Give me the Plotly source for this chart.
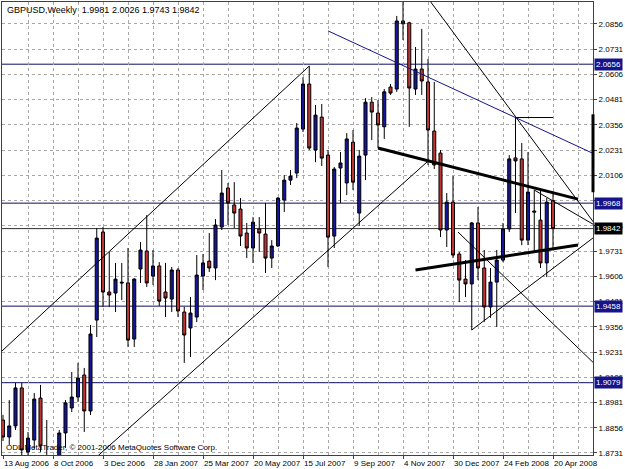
import plotly.graph_objects as go

# ---------------- data ----------------
week_idx = list(range(89))
opens = [1.8894,1.8810,1.8865,1.9053,1.8736,1.8795,1.9003,1.8680,1.8712,1.8700,
         1.8830,1.8954,1.9008,1.9117,1.8939,1.9389,1.9825,1.9528,1.9523,1.9577,
         1.9573,1.9295,1.9642,1.9731,1.9607,1.9657,1.9528,1.9493,1.9637,1.9429,
         1.9350,1.9404,1.9607,1.9681,1.9647,1.9850,2.0043,1.9959,1.9939,1.9820,
         1.9746,1.9840,1.9815,1.9696,1.9756,1.9983,2.0082,2.0117,2.0335,2.0558,
         2.0231,2.0394,2.0206,1.9805,2.0142,2.0068,2.0270,1.9919,2.0206,2.0468,
         2.0414,2.0346,2.0543,2.0533,2.0870,2.0861,2.0533,2.0632,2.0568,2.0325,
         2.0216,1.9835,1.9973,1.9716,1.9592,1.9568,1.9870,1.9647,1.9454,1.9577,
         1.9686,1.9840,2.0192,2.0187,1.9785,1.9929,1.9884,1.9672,1.9981]
highs = [1.8920,1.8993,1.9078,1.9078,1.8835,1.9028,1.9068,1.8894,1.8715,1.8845,
         1.8993,1.9132,1.9177,1.9152,1.9365,1.9845,1.9850,1.9726,1.9672,1.9672,
         1.9746,1.9597,1.9775,1.9909,1.9736,1.9676,1.9672,1.9652,1.9647,1.9454,
         1.9503,1.9711,1.9716,1.9820,1.9889,2.0132,2.0068,2.0072,1.9993,1.9870,
         1.9899,1.9899,1.9969,1.9785,1.9998,2.0107,2.0132,2.0365,2.0592,2.0647,
         2.0454,2.0459,2.0231,2.0147,2.0221,2.0315,2.0330,2.0231,2.0488,2.0493,
         2.0478,2.0533,2.0558,2.0895,2.1150,2.0866,2.0741,2.0831,2.0682,2.0568,
         2.0231,2.0018,2.0102,1.9726,1.9686,1.9875,1.9949,1.9736,1.9647,1.9736,
         1.9870,2.0206,2.0392,2.0266,2.0221,2.0033,2.0033,1.9993,2.0026]
lows = [1.8790,1.8771,1.8845,1.8706,1.8716,1.8751,1.8736,1.8650,1.8650,1.8680,
        1.8756,1.8934,1.8983,1.8835,1.8919,1.9305,1.9454,1.9454,1.9429,1.9488,
        1.9256,1.9256,1.9573,1.9553,1.9563,1.9459,1.9404,1.9429,1.9404,1.9177,
        1.9206,1.9379,1.9538,1.9627,1.9587,1.9835,1.9860,1.9845,1.9756,1.9696,
        1.9672,1.9726,1.9622,1.9647,1.9751,1.9924,2.0058,2.0092,2.0320,2.0231,
        2.0171,2.0152,1.9652,1.9746,1.9969,2.0008,2.0033,1.9855,2.0082,2.0280,
        2.0241,2.0286,2.0504,2.0519,2.0776,2.0346,2.0504,2.0504,2.0157,2.0137,
        1.9800,1.9751,1.9696,1.9478,1.9503,1.9340,1.9587,1.9380,1.9400,1.9355,
        1.9676,1.9825,1.9919,1.9760,1.9760,1.9726,1.9647,1.9602,1.9743]
closes = [1.8810,1.8865,1.9053,1.8746,1.8805,1.8998,1.8766,1.8712,1.8690,1.8830,
          1.8979,1.9008,1.9102,1.8939,1.9320,1.9795,1.9528,1.9513,1.9592,1.9573,
          1.9290,1.9592,1.9736,1.9573,1.9657,1.9483,1.9498,1.9637,1.9434,1.9315,
          1.9424,1.9612,1.9672,1.9647,1.9860,2.0018,1.9969,1.9919,1.9805,1.9746,
          1.9874,1.9820,1.9696,1.9756,1.9993,2.0082,2.0102,2.0340,2.0558,2.0241,
          2.0404,2.0191,1.9800,2.0137,2.0167,2.0286,2.0072,2.0201,2.0468,2.0419,
          2.0355,2.0519,2.0513,2.0870,2.0856,2.0538,2.0632,2.0573,2.0330,2.0157,
          1.9835,1.9973,1.9711,1.9587,1.9568,1.9870,1.9647,1.9454,1.9577,1.9686,
          1.9840,2.0187,2.0177,1.9785,2.0023,1.9924,1.9672,1.9973,1.9842]

date_tick_idx = [0, 8, 16, 24, 32, 40, 48, 56, 64, 72, 80, 88]
date_labels = ["13 Aug 2006", "8 Oct 2006", "3 Dec 2006", "28 Jan 2007", "25 Mar 2007",
               "20 May 2007", "15 Jul 2007", "9 Sep 2007", "4 Nov 2007", "30 Dec 2007",
               "24 Feb 2008", "20 Apr 2008"]
price_ticks = [1.8731, 1.8856, 1.8981, 1.9106, 1.9231, 1.9356, 1.9481, 1.9606, 1.9731,
               1.9856, 1.9981, 2.0106, 2.0231, 2.0356, 2.0481, 2.0606, 2.0731, 2.0856]

# horizontal levels (price, label background)
hlevels = [2.0656, 1.9968, 1.9458, 1.9079]
bid_price = 1.9842
# thick marker on the price scale border
scale_marker = (2.0022, 2.0408)

# drawn trend lines: (x0, y0, x1, y1)
thin_lines = [
    (-1, 1.9212, 49, 2.0647),      # channel upper
    (14, 1.8684, 68, 2.0176),      # channel lower
    (64, 2.1150, 94.5, 1.9873),    # steep line
    (85, 2.0033, 94.5, 1.9862),    # short line from bar high
    (72.8, 1.9825, 94.5, 1.9177),  # descending triangle side
    (75, 1.9340, 94.5, 1.9798),    # ascending triangle side
    (82, 2.0392, 88, 2.0392),      # horizontal segment
]
navy_lines = [(52, 2.0821, 94.5, 2.0213)]
thick_lines = [(60, 2.0241, 92, 1.9988), (66, 1.9637, 92, 1.9761)]

BULL = "#16169a"
BEAR = "#c03434"
NAVY = "#14148c"
HLINE = "#0c0c60"

fig = go.Figure()
fig.add_trace(go.Candlestick(
    x=week_idx, open=opens, high=highs, low=lows, close=closes,
    increasing=dict(fillcolor=BULL, line=dict(color="#000000", width=1)),
    decreasing=dict(fillcolor=BEAR, line=dict(color="#000000", width=1)),
    whiskerwidth=0, showlegend=False, hoverinfo="skip"))

for (x0, y0, x1, y1) in thin_lines:
    fig.add_trace(go.Scatter(x=[x0, x1], y=[y0, y1], mode="lines",
                             line=dict(color="#000000", width=1), showlegend=False, hoverinfo="skip"))
for (x0, y0, x1, y1) in navy_lines:
    fig.add_trace(go.Scatter(x=[x0, x1], y=[y0, y1], mode="lines",
                             line=dict(color=NAVY, width=1), showlegend=False, hoverinfo="skip"))
for (x0, y0, x1, y1) in thick_lines:
    fig.add_trace(go.Scatter(x=[x0, x1], y=[y0, y1], mode="lines",
                             line=dict(color="#000000", width=3), showlegend=False, hoverinfo="skip"))

shapes = []
for lv in hlevels:
    shapes.append(dict(type="line", xref="paper", x0=0, x1=1, yref="y", y0=lv, y1=lv,
                       line=dict(color=HLINE, width=1), layer="below"))
shapes.append(dict(type="line", xref="paper", x0=0, x1=1, yref="y", y0=bid_price, y1=bid_price,
                   line=dict(color="#303030", width=1), layer="below"))
shapes.append(dict(type="line", xref="paper", x0=1, x1=1, yref="y",
                   y0=scale_marker[0], y1=scale_marker[1],
                   line=dict(color="#000000", width=3), layer="above"))

FONT = "Liberation Sans, Arial, sans-serif"
annotations = []
for lv in hlevels:
    annotations.append(dict(xref="paper", x=1, yref="y", y=lv, text=f"{lv:.4f}",
                            xanchor="left", yanchor="middle", xshift=1, showarrow=False,
                            bgcolor=NAVY, font=dict(color="#ffffff", size=8, family=FONT),
                            borderpad=1))
annotations.append(dict(xref="paper", x=1, yref="y", y=bid_price, text=f"{bid_price:.4f}",
                        xanchor="left", yanchor="middle", xshift=1, showarrow=False,
                        bgcolor="#000000", font=dict(color="#ffffff", size=8, family=FONT),
                        borderpad=1))
annotations.append(dict(xref="paper", yref="paper", x=0, y=1, xanchor="left", yanchor="top",
                        xshift=3, yshift=-1, showarrow=False,
                        text="GBPUSD,Weekly  1.9981 2.0026 1.9743 1.9842",
                        font=dict(color="#000000", size=9, family=FONT)))
annotations.append(dict(xref="paper", yref="paper", x=0, y=0, xanchor="left", yanchor="bottom",
                        xshift=2, yshift=1, showarrow=False,
                        text="ODL MetaTrader, © 2001-2006 MetaQuotes Software Corp.",
                        font=dict(color="#000000", size=8, family=FONT)))

GRID = "#a8a8a8"
fig.update_layout(
    width=625, height=469,
    margin=dict(l=2, r=32, t=2, b=14, autoexpand=False),
    paper_bgcolor="#ffffff", plot_bgcolor="#ffffff",
    shapes=shapes, annotations=annotations,
    font=dict(family=FONT, size=8, color="#000000"),
    xaxis=dict(range=[-0.16, 94.4], rangeslider=dict(visible=False),
               tickmode="array", tickvals=date_tick_idx, ticktext=date_labels,
               tickangle=0, automargin=False,
               ticklabelposition="outside right", ticks="outside", ticklen=3,
               tickcolor="#404040",
               showgrid=True, gridcolor=GRID, griddash="3px,3px", gridwidth=1,
               minor=dict(tick0=0, dtick=4, showgrid=True, gridcolor=GRID,
                          griddash="3px,3px", gridwidth=1),
               showline=True, linecolor="#404040", linewidth=1, mirror=True,
               zeroline=False, tickfont=dict(size=8, family=FONT)),
    yaxis=dict(range=[1.8721, 2.0964], side="right", automargin=False,
               tickmode="array", tickvals=price_ticks,
               ticktext=[f"{v:.4f}" for v in price_ticks],
               ticks="outside", ticklen=3, tickcolor="#404040",
               showgrid=True, gridcolor=GRID, griddash="3px,3px", gridwidth=1,
               showline=True, linecolor="#404040", linewidth=1, mirror=True,
               zeroline=False, tickfont=dict(size=8, family=FONT)),
)

fig.write_html("out.html")
